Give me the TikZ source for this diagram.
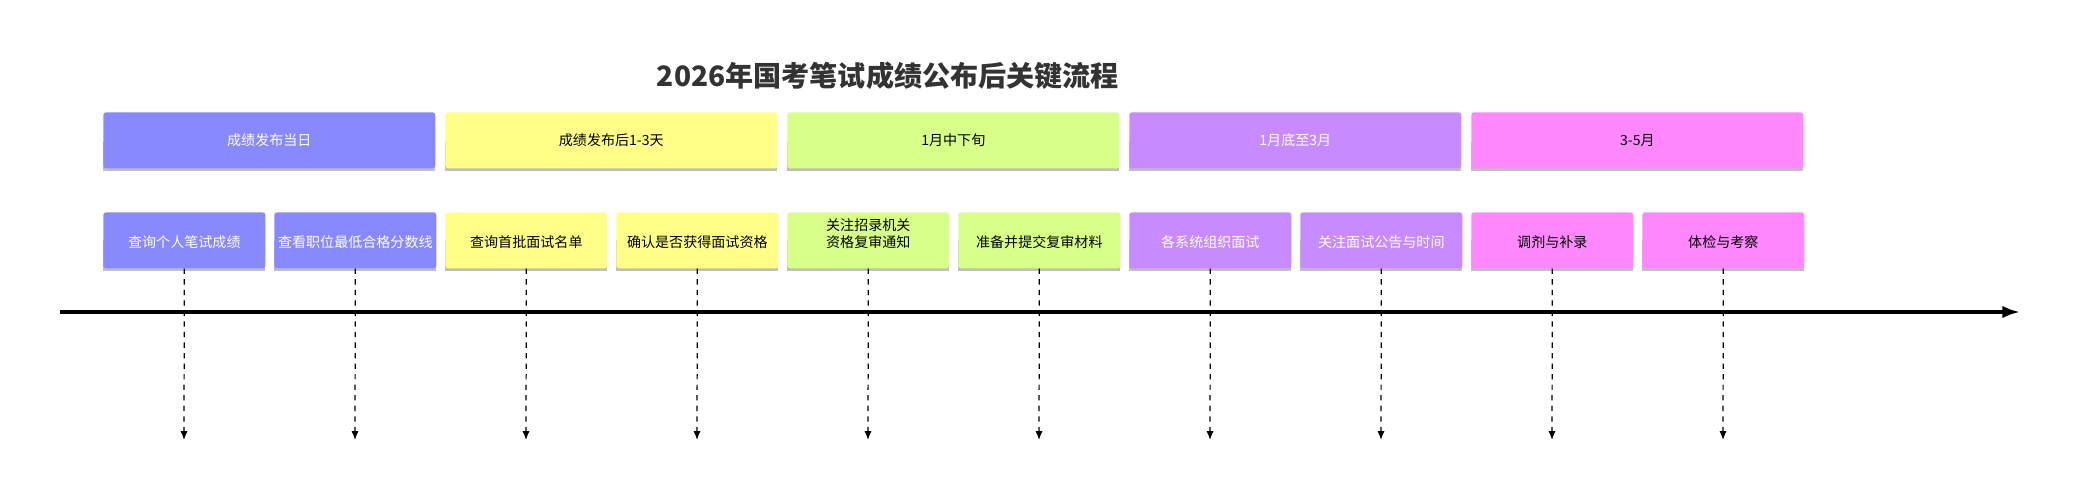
\documentclass[tikz,border=0pt]{standalone}
\usepackage{fontspec}
\setmainfont{Noto Sans CJK SC}
\usetikzlibrary{arrows.meta}
\definecolor{cBlue}{HTML}{8888FF}
\definecolor{cYellow}{HTML}{FFFF88}
\definecolor{cGreen}{HTML}{D8FF88}
\definecolor{cPurple}{HTML}{C88AFF}
\definecolor{cPink}{HTML}{FF88FF}
\tikzset{
  box/.style={draw=none, rounded corners=1.5pt, minimum height=1.12cm, inner sep=1pt,
    font=\fontsize{8}{9.5}\selectfont, align=center, text=#1},
  drop/.style={-{Latex[length=5pt,width=4pt]}, dashed, line width=0.7pt},
}
\begin{document}
\begin{tikzpicture}[x=0.02cm, y=-0.02cm]
  \useasboundingbox (0,0) rectangle (2075,500);
  \node[font=\bfseries\fontsize{16}{19}\selectfont, text=black!80] (title) at (888,76) {2026年国考笔试成绩公布后关键流程};

  % Phases
  \foreach \i/\col/\tc/\txt in {0/cBlue/white/成绩发布当日, 1/cYellow/black/成绩发布后1-3天, 2/cGreen/black/1月中下旬, 3/cPurple/white/1月底至3月, 4/cPink/black/3-5月}{
    \fill[black!25] (103+342*\i,142) rectangle (435+342*\i,171);
    \node[box=\tc, fill=\col, minimum width=6.64cm, anchor=north west] (ph\i) at (103+342*\i,112) {\txt};
  }

  % Steps
  \foreach \i/\col/\tc/\txt in {0/cBlue/white/查询个人笔试成绩, 1/cBlue/white/查看职位最低合格分数线, 2/cYellow/black/查询首批面试名单, 3/cYellow/black/确认是否获得面试资格, 4/cGreen/black/{关注招录机关\\资格复审通知}, 5/cGreen/black/准备并提交复审材料, 6/cPurple/white/各系统组织面试, 7/cPurple/white/关注面试公告与时间, 8/cPink/black/调剂与补录, 9/cPink/black/体检与考察}{
    \fill[black!25] (103+171*\i,240) rectangle (265+171*\i,271);
    \node[box=\tc, fill=\col, minimum width=3.24cm, minimum height=1.12cm, anchor=north west, text height=1.6ex] (st\i) at (103+171*\i,212) {\txt};
    \coordinate (end\i) at (184+171*\i,440);
    \draw[drop] (st\i.south) -- (end\i);
  }

  % Axis
  \coordinate (t0) at (60,312);
  \coordinate (t1) at (2020,312);
  \draw[line width=1.8pt, -{Latex[length=10pt,width=7pt]}] (t0) -- (t1);
\end{tikzpicture}
\end{document}
